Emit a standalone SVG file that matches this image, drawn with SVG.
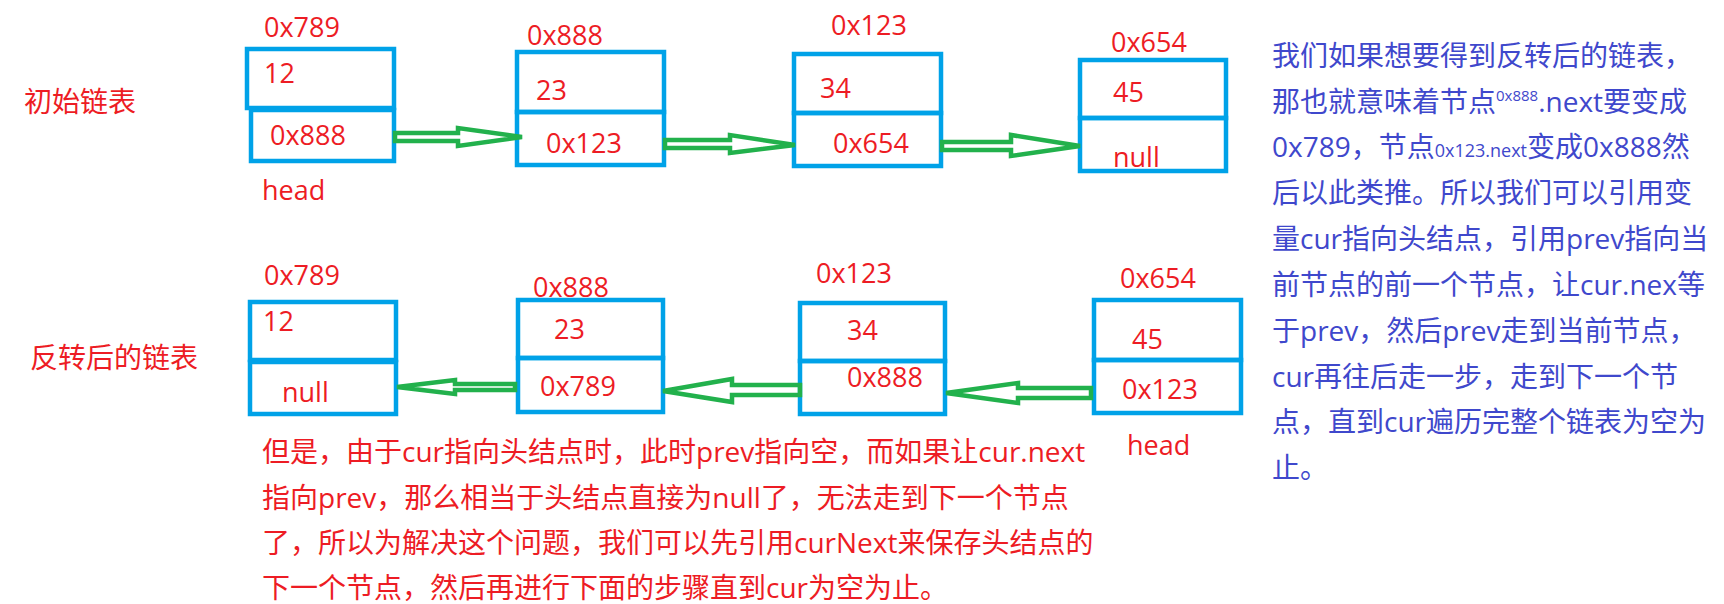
<svg xmlns="http://www.w3.org/2000/svg" width="1724" height="604" viewBox="0 0 1724 604">
<style>
.cell{fill:none;stroke:#00a2e8;stroke-width:4.5}
.arr{fill:none;stroke:#22b14c;stroke-width:4.5;stroke-linejoin:miter}
.lbl{font-family:"Open Sans","Noto Sans CJK SC",sans-serif;font-size:27px;fill:#ed1c24}
.ttl{font-family:"Open Sans","Noto Sans CJK SC",sans-serif;font-size:28px;fill:#ed1c24}
.pr{font-family:"Open Sans","Noto Sans CJK SC",sans-serif;font-size:28px;fill:#ed1c24}
.pb{font-family:"Open Sans","Noto Sans CJK SC",sans-serif;font-size:28px;fill:#3f48cc}
</style>
<rect width="1724" height="604" fill="#ffffff"/>
<text class="ttl" x="24" y="112">初始链表</text>
<text class="ttl" x="30" y="368">反转后的链表</text>

<g id="top-n1">
<rect class="cell" x="247" y="49" width="147" height="59"/>
<rect class="cell" x="251" y="110" width="143" height="51"/>
<text class="lbl" x="264" y="37">0x789</text>
<text class="lbl" x="264" y="83">12</text>
<text class="lbl" x="270" y="145">0x888</text>
<text class="lbl" x="262" y="200">head</text>
</g>
<g id="top-n2">
<rect class="cell" x="517" y="52" width="147" height="60"/>
<rect class="cell" x="517" y="112" width="147" height="53"/>
<text class="lbl" x="527" y="45">0x888</text>
<text class="lbl" x="536" y="100">23</text>
<text class="lbl" x="546" y="153">0x123</text>
</g>
<g id="top-n3">
<rect class="cell" x="794" y="54" width="147" height="59"/>
<rect class="cell" x="794" y="113" width="147" height="53"/>
<text class="lbl" x="831" y="35">0x123</text>
<text class="lbl" x="820" y="98">34</text>
<text class="lbl" x="833" y="153">0x654</text>
</g>
<g id="top-n4">
<rect class="cell" x="1080" y="60" width="146" height="58"/>
<rect class="cell" x="1080" y="118" width="146" height="53"/>
<text class="lbl" x="1111" y="52">0x654</text>
<text class="lbl" x="1113" y="102">45</text>
<text class="lbl" x="1113" y="167">null</text>
</g>

<g id="bot-n1">
<rect class="cell" x="250" y="302" width="146" height="58"/>
<rect class="cell" x="250" y="362" width="146" height="52"/>
<text class="lbl" x="264" y="285">0x789</text>
<text class="lbl" x="263" y="331">12</text>
<text class="lbl" x="282" y="402">null</text>
</g>
<g id="bot-n2">
<rect class="cell" x="518" y="300" width="145" height="58"/>
<rect class="cell" x="518" y="358" width="145" height="54"/>
<text class="lbl" x="533" y="297">0x888</text>
<text class="lbl" x="554" y="339">23</text>
<text class="lbl" x="540" y="396">0x789</text>
</g>
<g id="bot-n3">
<rect class="cell" x="800" y="303" width="145" height="58"/>
<rect class="cell" x="800" y="361" width="145" height="53"/>
<text class="lbl" x="816" y="283">0x123</text>
<text class="lbl" x="847" y="340">34</text>
<text class="lbl" x="847" y="387">0x888</text>
</g>
<g id="bot-n4">
<rect class="cell" x="1094" y="300" width="147" height="60"/>
<rect class="cell" x="1094" y="360" width="147" height="53"/>
<text class="lbl" x="1120" y="288">0x654</text>
<text class="lbl" x="1132" y="349">45</text>
<text class="lbl" x="1122" y="399">0x123</text>
<text class="lbl" x="1127" y="455">head</text>
</g>

<g id="connectors">
<path class="arr" d="M395,133 L458,133 L458,128 L522,137 L458,146 L458,141 L395,141 Z"/>
<path class="arr" d="M665,140 L730,140 L730,135 L795,145 L730,153 L730,148 L665,148 Z"/>
<path class="arr" d="M942,142 L1011,142 L1011,135 L1080,146 L1011,156 L1011,150 L942,150 Z"/>
<path class="arr" d="M515,384 L455,384 L455,380 L397,387 L455,394 L455,390 L515,390 Z"/>
<path class="arr" d="M800,385 L732,385 L732,379 L663,391 L732,402 L732,395 L800,395 Z"/>
<path class="arr" d="M1091,388 L1018,388 L1018,383 L946,393 L1018,403 L1018,398 L1091,398 Z"/>
</g>

<g id="note-right">
<text class="pb" x="1272" y="66">我们如果想要得到反转后的链表，</text>
<text class="pb" x="1272" y="112">那也就意味着节点<tspan font-size="15" dy="-11">0x888</tspan><tspan dy="11">.next要变成</tspan></text>
<text class="pb" x="1272" y="157">0x789，节点<tspan font-size="18">0x123.next</tspan>变成0x888然</text>
<text class="pb" x="1272" y="203">后以此类推。所以我们可以引用变</text>
<text class="pb" x="1272" y="249">量cur指向头结点，引用prev指向当</text>
<text class="pb" x="1272" y="295">前节点的前一个节点，让cur.nex等</text>
<text class="pb" x="1272" y="341">于prev，然后prev走到当前节点，</text>
<text class="pb" x="1272" y="387">cur再往后走一步，走到下一个节</text>
<text class="pb" x="1272" y="432">点，直到cur遍历完整个链表为空为</text>
<text class="pb" x="1272" y="478">止。</text>
</g>

<g id="note-bottom">
<text class="pr" x="262" y="462">但是，由于cur指向头结点时，此时prev指向空，而如果让cur.next</text>
<text class="pr" x="262" y="508">指向prev，那么相当于头结点直接为null了，无法走到下一个节点</text>
<text class="pr" x="262" y="553">了，所以为解决这个问题，我们可以先引用curNext来保存头结点的</text>
<text class="pr" x="262" y="598">下一个节点，然后再进行下面的步骤直到cur为空为止。</text>
</g>
</svg>
